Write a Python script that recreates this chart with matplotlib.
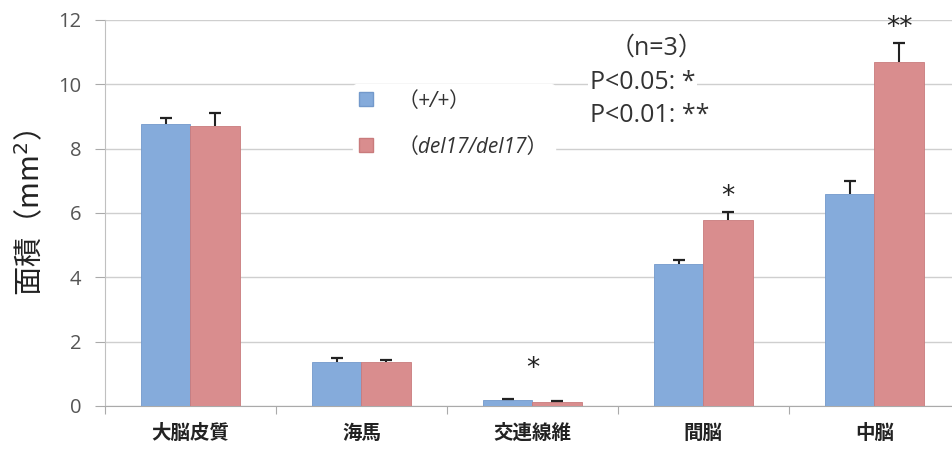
import matplotlib.pyplot as plt
import numpy as np
from matplotlib.patches import Patch

plt.rcParams['font.family'] = ['Noto Sans CJK JP', 'DejaVu Sans']

# data
categories = ['大脳皮質', '海馬', '交連線維', '間脳', '中脳']
wt_mean = [8.77, 1.38, 0.20, 4.41, 6.60]
wt_err = [0.17, 0.12, 0.03, 0.13, 0.40]
ko_mean = [8.71, 1.38, 0.12, 5.78, 10.68]
ko_err = [0.40, 0.05, 0.02, 0.25, 0.60]
marks = ['', '', '*', '*', '**']
mark_y = [0, 0, 1.15, 6.5, 11.75]
series_labels = ['（+/+）', '（del17/del17）']

blue = '#85abdb'
red = '#d98d8e'

fig = plt.figure(figsize=(9.52, 4.49), dpi=100)
ax = fig.add_axes([0.1103, 0.0958, 0.898, 0.8597])

x = np.arange(len(categories))
w = 0.29
wt_top = np.array(wt_mean) + np.array(wt_err)
ko_top = np.array(ko_mean) + np.array(ko_err)
ax.bar(x - w/2, wt_mean, w, color=blue, edgecolor='#7399cb', linewidth=0.6, zorder=3)
ax.bar(x + w/2, ko_mean, w, color=red, edgecolor='#c97b7c', linewidth=0.6, zorder=3)
# error bars: upper side only, cap on top
ax.vlines(x - w/2, wt_mean, wt_top, color='#222222', lw=1.5, zorder=4)
ax.vlines(x + w/2, ko_mean, ko_top, color='#222222', lw=1.5, zorder=4)
ax.plot(x - w/2, wt_top, ls='none', marker='_', ms=9, mew=1.6, color='#222222', zorder=4)
ax.plot(x + w/2, ko_top, ls='none', marker='_', ms=9, mew=1.6, color='#222222', zorder=4)

# significance marks
for i, m in enumerate(marks):
    if m:
        xp = x[i] if i == 2 else x[i] + w/2
        ax.text(xp, mark_y[i], m, ha='center', va='center', fontsize=19,
                family='DejaVu Sans', color='#222222', zorder=5)

ax.set_xlim(-0.5, 4.5)
ax.set_ylim(0, 12)
ax.set_yticks(range(0, 13, 2))
ax.set_xticks(np.arange(-0.5, 5, 1), minor=False)
ax.set_xticklabels([])
ax.set_xticks(x, minor=True)
ax.set_xticklabels(categories, minor=True, fontsize=14, fontweight='bold', color='#222222')
ax.tick_params(axis='x', which='minor', length=0, pad=13)
ax.tick_params(axis='x', which='major', length=6, color='#aaaaaa', direction='out')
ax.tick_params(axis='y', length=7, color='#aaaaaa', labelcolor='#555555',
               labelsize=14.5, pad=10)
for lab in ax.get_yticklabels():
    lab.set_family('Open Sans')

ax.grid(axis='y', color='#cfcfcf', linewidth=1.0, zorder=0)
for s in ['top', 'right']:
    ax.spines[s].set_visible(False)
ax.spines['left'].set_color('#c0c0c0')
ax.spines['bottom'].set_color('#aaaaaa')

ax.set_ylabel('面積（mm$^2$）', fontsize=21, color='#222222', labelpad=8)

# legend
handles = [Patch(facecolor=blue, edgecolor='#7399cb'), Patch(facecolor=red, edgecolor='#c97b7c')]
leg = ax.legend(handles, series_labels, loc='upper left', bbox_to_anchor=(0.278, 0.86),
                frameon=True, framealpha=1, edgecolor='white', fontsize=15,
                handlelength=0.65, handleheight=0.65, handletextpad=1.2, labelspacing=1.2,
                borderpad=0.3)
for t in leg.get_texts():
    t.set_style('italic')
    t.set_color('#333333')
    t.set_family(['Open Sans', 'Noto Sans CJK JP'])
leg.set_zorder(6)

# n / p-value note
ax.text(0.59, 0.96, '（n=3）', transform=ax.transAxes, fontsize=18, color='#333333',
        ha='left', va='top', family=['Open Sans', 'Noto Sans CJK JP'],
        bbox=dict(facecolor='white', edgecolor='none', pad=1), zorder=6)
ax.text(0.567, 0.87, 'P<0.05: *', transform=ax.transAxes, fontsize=18, color='#333333',
        ha='left', va='top', family='Open Sans',
        bbox=dict(facecolor='white', edgecolor='none', pad=1), zorder=6)
ax.text(0.567, 0.785, 'P<0.01: **', transform=ax.transAxes, fontsize=18, color='#333333',
        ha='left', va='top', family='Open Sans',
        bbox=dict(facecolor='white', edgecolor='none', pad=1), zorder=6)

plt.savefig('out.png', dpi=100)
